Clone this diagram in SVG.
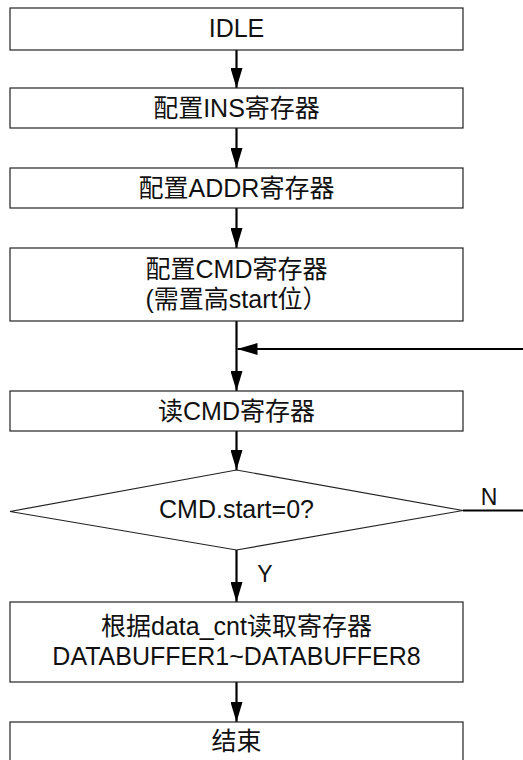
<svg xmlns="http://www.w3.org/2000/svg" width="523" height="760" viewBox="0 0 523 760">
<style>
.box{fill:#fff;stroke:#222;stroke-width:1.2}
.t{font-family:"Liberation Sans","Noto Sans CJK SC",sans-serif;font-size:25px;fill:#111;text-anchor:middle}
.lbl{font-family:"Liberation Sans",sans-serif;font-size:23px;fill:#111;text-anchor:middle}
.c{stroke:#000;stroke-width:2.2;fill:none}
</style>
<defs>
<marker id="ah" viewBox="0 0 20 12" refX="20" refY="6" markerWidth="20" markerHeight="12" markerUnits="userSpaceOnUse" orient="auto">
<path d="M0,0 L20,6 L0,12 Z" fill="#000"/>
</marker>
</defs>
<rect width="523" height="760" fill="#fff"/>
<g id="connectors">
<line class="c" x1="236.5" y1="50" x2="236.5" y2="88" marker-end="url(#ah)"/>
<line class="c" x1="236.5" y1="128" x2="236.5" y2="168" marker-end="url(#ah)"/>
<line class="c" x1="236.5" y1="208" x2="236.5" y2="248" marker-end="url(#ah)"/>
<line class="c" x1="236.5" y1="321" x2="236.5" y2="391" marker-end="url(#ah)"/>
<line class="c" x1="523" y1="349" x2="237.5" y2="349" marker-end="url(#ah)"/>
<line class="c" x1="236.5" y1="431" x2="236.5" y2="470" marker-end="url(#ah)"/>
<line class="c" x1="463" y1="510.5" x2="523" y2="510.5"/>
<line class="c" x1="236.5" y1="550" x2="236.5" y2="602" marker-end="url(#ah)"/>
<line class="c" x1="236.5" y1="682" x2="236.5" y2="722" marker-end="url(#ah)"/>
<text class="lbl" x="489" y="505">N</text>
<text class="lbl" x="265" y="582">Y</text>
</g>
<g id="n1"><rect class="box" x="10" y="8" width="453" height="42"/><text class="t" x="236.5" y="37">IDLE</text></g>
<g id="n2"><rect class="box" x="10" y="88" width="453" height="40"/><text class="t" x="236.5" y="117">配置INS寄存器</text></g>
<g id="n3"><rect class="box" x="10" y="168" width="453" height="40"/><text class="t" x="236.5" y="197">配置ADDR寄存器</text></g>
<g id="n4"><rect class="box" x="10" y="248" width="453" height="73"/><text class="t" x="236.5" y="278">配置CMD寄存器</text><text class="t" x="236.5" y="308">(需置高start位）</text></g>
<g id="n5"><rect class="box" x="10" y="391" width="453" height="40"/><text class="t" x="236.5" y="420">读CMD寄存器</text></g>
<g id="n6"><polygon class="box" points="236.5,470 463,510.5 236.5,550 10,511.5"/><text class="t" x="236.5" y="518">CMD.start=0?</text></g>
<g id="n7"><rect class="box" x="10" y="602" width="453" height="80"/><text class="t" x="236.5" y="635">根据data_cnt读取寄存器</text><text class="t" x="236.5" y="665">DATABUFFER1~DATABUFFER8</text></g>
<g id="n8"><rect class="box" x="10" y="722" width="453" height="45"/><text class="t" x="236.5" y="750">结束</text></g>
</svg>
